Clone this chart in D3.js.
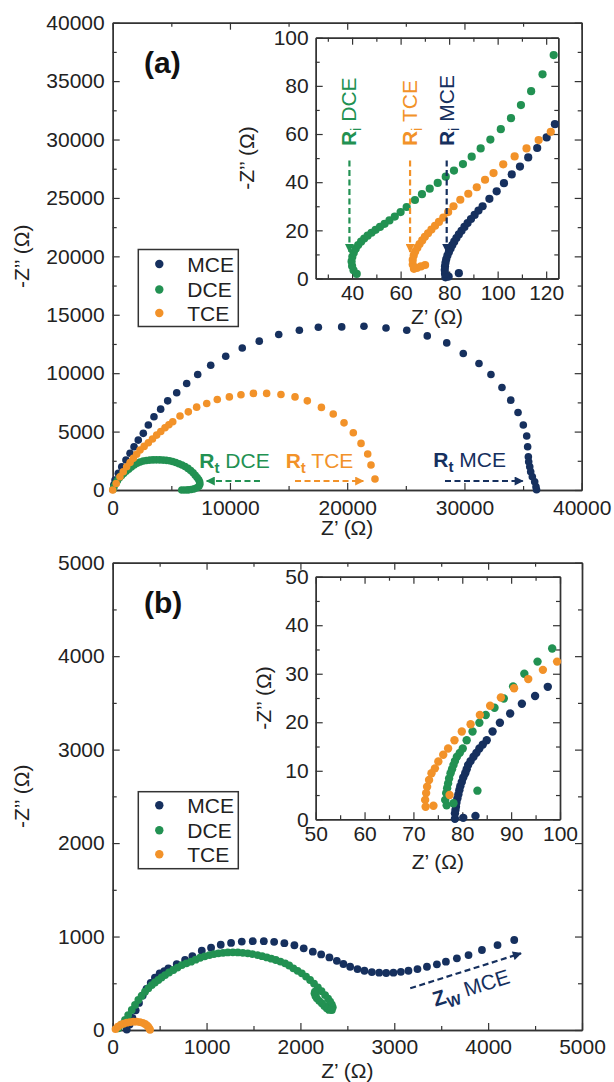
<!DOCTYPE html>
<html>
<head>
<meta charset="utf-8">
<script src="https://cdn.jsdelivr.net/npm/d3@7"></script>
<style>
  body { margin: 0; background: #fff; }
  svg { display: block; font-family: "Liberation Sans", Arial, sans-serif; }
</style>
</head>
<body>
<div id="chart"></div>
<script>
// ---- panel (a), main: Z' / -Z'' in ohm ----
const mceA = [[100,450],[200,850],[480,1430],[770,1990],[1130,2560],[1480,3140],[1820,3700],[2180,4270],[2610,4850],[3040,5560],[3520,6270],[4090,6920],[4690,7630],[5460,8320],[6310,9120],[7250,9890],[8360,10680],[9640,11450],[11050,12160],[12500,12740],[14160,13310],[15920,13680],[17540,13930],[19530,13960],[21430,14020],[23310,13870],[25080,13680],[26830,13190],[28490,12590],[29900,11680],[31240,10830],[32260,9890],[33200,8780],[33950,7690],[34570,6640],[35020,5560],[35310,4620],[35390,3700],[35450,2850],[35480,2420],[35570,1990],[35650,1560],[35790,1140],[35990,710],[36100,280],[36150,20]];
const dceA = [[30,50],[120,300],[250,560],[400,800],[560,1030],[740,1230],[930,1420],[1140,1600],[1360,1770],[1590,1960],[1830,2150],[2080,2290],[2340,2400],[2610,2480],[2880,2530],[3160,2560],[3440,2575],[3720,2580],[4010,2575],[4300,2560],[4570,2540],[4840,2500],[5110,2440],[5380,2360],[5650,2250],[5910,2140],[6170,2010],[6420,1850],[6650,1670],[6860,1470],[7040,1260],[7200,1060],[7340,870],[7420,680],[7430,490],[7350,320],[7180,190],[6960,100],[6700,40],[6430,10],[6160,0],[5890,0]];
const tceA = [[0,0],[300,560],[620,1140],[900,1560],[1190,1990],[1480,2360],[1760,2710],[2040,3060],[2330,3420],[2680,3730],[3040,4040],[3390,4370],[3750,4700],[4100,5010],[4460,5330],[4790,5580],[5120,5840],[5740,6330],[6450,6690],[7160,7090],[8020,7410],[8920,7750],[9950,7970],[10940,8150],[12000,8270],[13130,8270],[14350,8180],[15550,7970],[16600,7630],[17800,7070],[18810,6500],[19730,5750],[20520,4900],[21180,3990],[21750,3080],[22030,2140],[22370,940]];

// ---- panel (a), inset ----
const mceInsetA = [[84.0,2.2],[79.8,0.8],[78.5,0.5],[78.3,2.0],[78.2,3.5],[78.3,5.0],[78.5,6.5],[78.8,8.0],[79.3,9.5],[79.9,11.0],[80.6,12.5],[81.3,13.9],[82.1,15.3],[83.0,16.8],[84.0,18.3],[85.1,19.8],[86.3,21.4],[87.6,23.0],[89.0,24.7],[90.5,26.4],[92.1,28.2],[93.8,30.0],[96.6,33.1],[99.6,36.2],[102.6,39.6],[105.8,43.2],[109.2,46.5],[112.6,50.3],[116.3,54.2],[120.2,58.6],[123.6,64.1]];
const dceInsetA = [[41.9,1.9],[40.6,3.4],[40.0,5.2],[39.8,7.1],[40.1,9.0],[40.7,10.8],[41.5,12.4],[42.5,13.9],[43.7,15.3],[45.0,16.6],[46.4,17.8],[48.0,19.0],[49.7,20.2],[51.5,21.4],[53.4,22.7],[55.4,24.1],[57.6,25.7],[60.0,27.6],[62.5,29.7],[65.9,32.6],[68.8,35.0],[72.0,37.3],[75.3,39.7],[78.6,42.3],[82.0,44.8],[85.7,47.5],[89.3,50.6],[93.0,54.0],[97.0,57.7],[101.3,62.0],[105.5,66.6],[109.6,72.0],[113.8,77.8],[118.5,84.8],[123.1,92.8]];
const tceInsetA = [[70.1,5.6],[68.4,5.0],[66.7,4.4],[65.5,4.0],[65.0,5.8],[65.0,7.7],[65.4,9.6],[66.0,11.2],[66.9,12.8],[67.8,14.3],[68.9,15.8],[70.0,17.3],[71.3,18.8],[72.7,20.3],[74.2,21.9],[75.8,23.5],[77.6,25.3],[79.6,27.6],[81.8,30.0],[84.6,32.7],[87.9,35.2],[91.4,37.9],[94.8,41.0],[98.3,43.8],[102.3,47.4],[107.0,50.7],[111.9,54.0],[116.9,57.5],[121.9,60.9]];

// ---- panel (b), main ----
const mceB = [[150,5],[180,60],[210,130],[245,210],[280,290],[320,370],[360,440],[405,505],[450,560],[500,605],[550,630],[593,660],[682,705],[771,749],[849,791],[949,848],[1048,880],[1151,912],[1261,932],[1375,946],[1492,950],[1610,950],[1720,943],[1829,929],[1936,907],[2035,874],[2132,838],[2221,809],[2309,777],[2388,740],[2458,706],[2530,677],[2608,652],[2682,634],[2761,620],[2839,613],[2914,610],[2991,613],[3070,622],[3151,634],[3247,652],[3348,677],[3454,703],[3550,731],[3667,767],[3791,802],[3934,856],[4100,909],[4278,963]];
const dceB = [[60,18],[95,60],[131,107],[165,160],[203,214],[238,268],[273,321],[308,365],[344,410],[380,447],[416,481],[450,508],[486,535],[520,562],[558,588],[600,615],[646,642],[690,668],[736,695],[785,713],[835,731],[883,752],[931,773],[980,788],[1030,802],[1078,812],[1126,820],[1176,826],[1226,830],[1280,831],[1333,830],[1386,826],[1439,820],[1490,812],[1542,802],[1592,790],[1642,777],[1690,763],[1738,749],[1787,732],[1837,713],[1880,690],[1925,660],[1970,633],[2015,606],[2060,572],[2103,535],[2145,497],[2186,457],[2225,415],[2263,374],[2295,335],[2317,303],[2335,270],[2345,243],[2335,214],[2305,215],[2281,232],[2255,258],[2228,286],[2200,312],[2175,339],[2160,365],[2150,392],[2155,410]];
const tceB = [[30,10],[55,35],[85,55],[115,68],[150,78],[185,85],[220,89],[255,89],[290,85],[320,77],[345,65],[365,50],[380,33],[392,15],[398,2]];

// ---- panel (b), inset ----
const mceInsetB = [[82.7,0.7],[80.2,0.3],[78.5,0.1],[78.5,1.2],[78.6,1.9],[78.7,2.6],[78.8,3.4],[79.0,4.3],[79.2,5.1],[79.4,6.0],[79.6,6.8],[79.9,7.7],[80.2,8.6],[80.6,9.5],[80.9,10.3],[81.2,11.2],[81.7,12.0],[82.3,12.9],[82.9,13.7],[83.5,14.6],[84.2,15.4],[85.0,16.3],[86.2,18.1],[87.7,19.9],[89.8,21.8],[92.2,23.8],[94.9,25.4],[97.5,27.3]];
const dceInsetB = [[83.1,5.9],[78.2,3.3],[76.8,2.9],[76.5,4.0],[76.7,5.4],[76.9,6.4],[77.1,7.4],[77.3,8.4],[77.6,9.5],[77.9,10.3],[78.2,11.2],[78.5,12.0],[78.9,12.9],[79.5,13.7],[80.1,14.6],[80.9,16.3],[82.1,18.1],[83.5,19.9],[84.8,21.5],[86.6,23.0],[88.5,24.9],[90.4,27.4],[92.7,30.0],[95.4,32.5],[98.4,35.2]];
const tceInsetB = [[74.1,2.8],[72.5,2.6],[72.4,4.0],[72.6,5.4],[72.8,6.7],[73.2,8.1],[73.7,9.5],[74.4,10.5],[75.1,11.9],[76.1,13.3],[77.1,14.6],[78.4,16.3],[79.9,18.1],[81.7,19.6],[83.6,21.5],[85.7,23.4],[87.9,25.1],[90.6,27.0],[93.5,28.9],[96.5,30.8],[99.4,32.5],[77.4,5.0]];

const series = ["MCE", "DCE", "TCE"];

// annotations (data coordinates of their panel)
const rtLabels = [
  {name: "DCE", text: [7386, 1855], from: [12560, 770], to: [8020, 770]},
  {name: "TCE", text: [14755, 1855], from: [15550, 770], to: [21370, 770]},
  {name: "MCE", text: [27343, 1990], from: [28340, 770], to: [34970, 770]}
];
const riLabels = [
  {name: "DCE", x: 38.9},
  {name: "TCE", x: 63.9},
  {name: "MCE", x: 79.0}
];
const zwArrow = {from: [3170, 446], to: [4350, 820], text: [3436, 249]};

(function() {
  const width = 614, height = 1082;
  const color = {MCE: "#16305e", DCE: "#229152", TCE: "#f29229"};
  const ink = "#222", axisInk = "#333";
  const fs = 21;

  const svg = d3.select("#chart").append("svg")
    .attr("width", width).attr("height", height);

  // arrow heads
  const defs = svg.append("defs");
  series.forEach(s => {
    defs.append("marker")
      .attr("id", "ah-" + s)
      .attr("viewBox", "0 0 10 10")
      .attr("refX", 9).attr("refY", 5)
      .attr("markerWidth", 10).attr("markerHeight", 9)
      .attr("markerUnits", "userSpaceOnUse")
      .attr("orient", "auto")
      .append("path").attr("d", "M0,0 L10,5 L0,10 z").attr("fill", color[s]);
  });

  // frame with inward ticks on all four sides
  function frame(g, x, y, o) {
    const yb = y.range()[0], yt = y.range()[1], xl = x.range()[0], xr = x.range()[1];
    const add = (axis, tr, vals, size, pad) => {
      const a = g.append("g").attr("transform", tr)
        .call(axis.tickValues(vals).tickSizeInner(-size).tickSizeOuter(0)
          .tickPadding(pad == null ? 0 : pad)
          .tickFormat(pad == null ? "" : d3.format("d")));
      a.select(".domain").attr("stroke", axisInk).attr("stroke-width", 1.4);
      a.selectAll(".tick line").attr("stroke", axisInk).attr("stroke-width", 1.2);
      a.selectAll("text").attr("font-size", fs).attr("fill", ink)
        .attr("font-family", "Liberation Sans, Arial, sans-serif");
    };
    add(d3.axisBottom(x), `translate(0,${yb})`, o.xMin, 4);
    add(d3.axisBottom(x), `translate(0,${yb})`, o.xMaj, 7, o.padX);
    add(d3.axisTop(x), `translate(0,${yt})`, o.xMin, 4);
    add(d3.axisTop(x), `translate(0,${yt})`, o.xMaj, 7);
    add(d3.axisLeft(y), `translate(${xl},0)`, o.yMin, 4);
    add(d3.axisLeft(y), `translate(${xl},0)`, o.yMaj, 7, o.padY);
    add(d3.axisRight(y), `translate(${xr},0)`, o.yMin, 4);
    add(d3.axisRight(y), `translate(${xr},0)`, o.yMaj, 7);
  }

  function panel(o) {
    const x = d3.scaleLinear().domain(o.xd).range([o.l, o.r]);
    const y = d3.scaleLinear().domain(o.yd).range([o.b, o.t]);
    const g = svg.append("g");
    g.append("rect").attr("x", o.l).attr("y", o.t)
      .attr("width", o.r - o.l).attr("height", o.b - o.t).attr("fill", "#fff");
    frame(g, x, y, o);
    // axis titles
    g.append("text")
      .attr("x", (o.l + o.r) / 2).attr("y", o.xlab)
      .attr("text-anchor", "middle").attr("font-size", fs).attr("fill", ink)
      .text("Z\u2019 (\u03A9)");
    g.append("text")
      .attr("transform", `translate(${o.ylab},${(o.t + o.b) / 2}) rotate(-90)`)
      .attr("text-anchor", "middle").attr("font-size", fs).attr("fill", ink)
      .text("-Z\u2019\u2019 (\u03A9)");
    return {g, x, y};
  }

  function dots(p, data, s, r) {
    p.g.append("g").selectAll("circle")
      .data(data)
      .enter().append("circle")
      .attr("cx", d => p.x(d[0]))
      .attr("cy", d => p.y(d[1]))
      .attr("r", r)
      .attr("fill", color[s]);
  }

  function legend(x0, y0, rowY) {
    const g = svg.append("g");
    g.append("rect").attr("x", x0).attr("y", y0).attr("width", 100).attr("height", 77)
      .attr("fill", "#fff").attr("stroke", axisInk).attr("stroke-width", 1.5);
    series.forEach((s, i) => {
      const cy = y0 + rowY[i];
      g.append("circle").attr("cx", x0 + 21).attr("cy", cy).attr("r", 4.2).attr("fill", color[s]);
      g.append("text").attr("x", x0 + 49).attr("y", cy + 7.5)
        .attr("font-size", fs).attr("fill", ink).text(s);
    });
  }

  function dashed(g, a, b, s) {
    g.append("line")
      .attr("x1", a[0]).attr("y1", a[1]).attr("x2", b[0]).attr("y2", b[1])
      .attr("stroke", color[s]).attr("stroke-width", 2.2)
      .attr("stroke-dasharray", "6,3.5")
      .attr("marker-end", `url(#ah-${s})`);
  }

  // subscripted label, e.g. R_t DCE
  function subLabel(sel, main, sub, rest, s, bold) {
    const t = sel.attr("font-size", fs).attr("fill", color[s]);
    t.append("tspan").attr("font-weight", "bold").text(main);
    t.append("tspan").attr("font-weight", bold ? "bold" : "normal")
      .attr("font-size", 15).attr("dy", 5).text(sub);
    t.append("tspan").attr("dy", -5).text(rest);
    return t;
  }

  // ================= panel (a) =================
  const A = panel({
    xd: [0, 40000], yd: [0, 40000], l: 112.7, r: 581.7, b: 490, t: 22.7,
    xMaj: d3.range(0, 40001, 10000), xMin: d3.range(5000, 40000, 10000),
    yMaj: d3.range(0, 40001, 5000), yMin: d3.range(2500, 40000, 5000),
    padX: 10, padY: 8, xlab: 535, ylab: 29
  });
  dots(A, mceA, "MCE", 3.8);
  dots(A, dceA, "DCE", 3.8);
  dots(A, tceA, "TCE", 3.8);

  rtLabels.forEach(d => {
    dashed(A.g, [A.x(d.from[0]), A.y(d.from[1])], [A.x(d.to[0]), A.y(d.to[1])], d.name);
    subLabel(A.g.append("text").attr("x", A.x(d.text[0])).attr("y", A.y(d.text[1])),
      "R", "t", " " + d.name, d.name, true);
  });

  A.g.append("text").attr("x", 144).attr("y", 73)
    .attr("font-size", 30).attr("font-weight", "bold").attr("fill", "#111").text("(a)");

  legend(138.3, 249.5, [14.5, 40, 63.5]);

  // inset (a)
  const IA = panel({
    xd: [25, 125], yd: [0, 100], l: 315.7, r: 558.3, b: 278.5, t: 37.7,
    xMaj: d3.range(40, 121, 20), xMin: d3.range(30, 125, 20),
    yMaj: d3.range(0, 101, 20), yMin: d3.range(10, 100, 20),
    padX: 7, padY: 7, xlab: 324, ylab: 254
  });
  dots(IA, mceInsetA, "MCE", 4.1);
  dots(IA, dceInsetA, "DCE", 4.1);
  dots(IA, tceInsetA, "TCE", 4.1);

  riLabels.forEach(d => {
    const px = IA.x(d.x);
    dashed(IA.g, [px, IA.y(49)], [px, IA.y(11)], d.name);
    subLabel(IA.g.append("text")
      .attr("transform", `translate(${px + 7},${IA.y(55)}) rotate(-90)`),
      "R", "i", " " + d.name, d.name, false);
  });

  // ================= panel (b) =================
  const B = panel({
    xd: [0, 5000], yd: [0, 5000], l: 112.7, r: 582, b: 1030, t: 562.7,
    xMaj: d3.range(0, 5001, 1000), xMin: d3.range(500, 5000, 1000),
    yMaj: d3.range(0, 5001, 1000), yMin: d3.range(500, 5000, 1000),
    padX: 9, padY: 8, xlab: 1078, ylab: 29
  });
  dots(B, mceB, "MCE", 3.9);
  dots(B, dceB, "DCE", 3.9);
  dots(B, tceB, "TCE", 3.9);

  const za = [B.x(zwArrow.from[0]), B.y(zwArrow.from[1])];
  const zb = [B.x(zwArrow.to[0]), B.y(zwArrow.to[1])];
  dashed(B.g, za, zb, "MCE");
  const ang = Math.atan2(zb[1] - za[1], zb[0] - za[0]) * 180 / Math.PI;
  subLabel(B.g.append("text")
    .attr("transform", `translate(${B.x(zwArrow.text[0])},${B.y(zwArrow.text[1])}) rotate(${ang})`),
    "Z", "W", " MCE", "MCE", true);

  B.g.append("text").attr("x", 144).attr("y", 613)
    .attr("font-size", 30).attr("font-weight", "bold").attr("fill", "#111").text("(b)");

  legend(138.3, 791.7, [13.5, 38.5, 62.5]);

  // inset (b)
  const IB = panel({
    xd: [50, 100], yd: [0, 50], l: 315.7, r: 560, b: 819.3, t: 576.7,
    xMaj: d3.range(50, 101, 10), xMin: d3.range(55, 100, 10),
    yMaj: d3.range(0, 51, 10), yMin: d3.range(5, 50, 10),
    padX: 7, padY: 7, xlab: 869, ylab: 271
  });
  dots(IB, mceInsetB, "MCE", 4.2);
  dots(IB, dceInsetB, "DCE", 4.2);
  dots(IB, tceInsetB, "TCE", 4.2);
})();
</script>
</body>
</html>
